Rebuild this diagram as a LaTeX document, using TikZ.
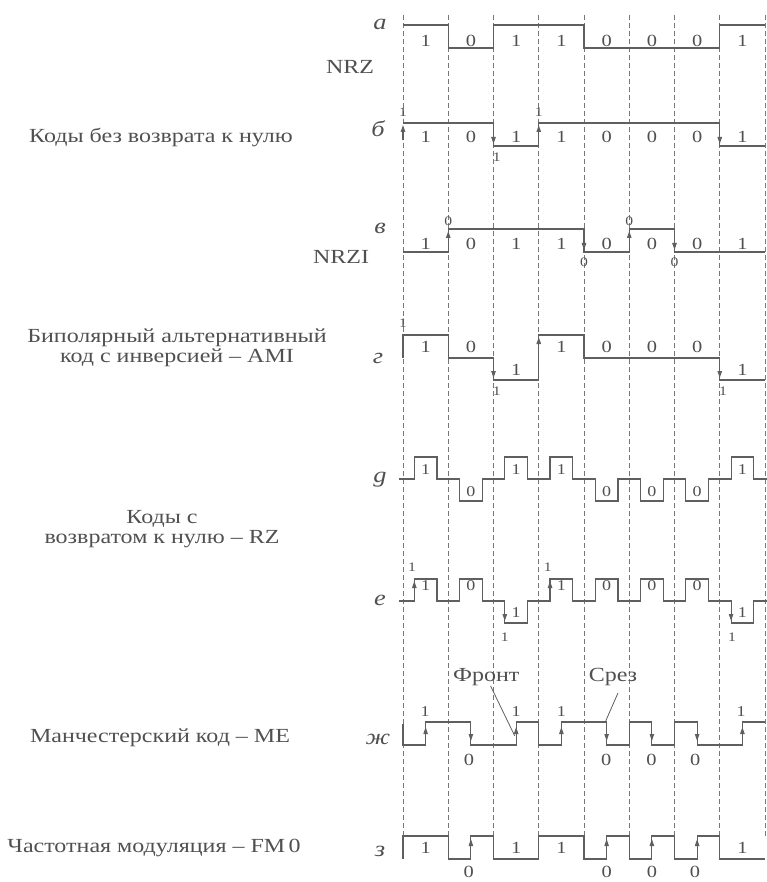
\documentclass[tikz,border=0pt]{standalone}
\usepackage{fontspec}
\setmainfont{Liberation Serif}[FakeStretch=1.2]
\usetikzlibrary{arrows.meta}
\definecolor{ink}{RGB}{95,95,95}
\definecolor{txt}{RGB}{80,80,80}
\begin{document}
\begin{tikzpicture}[x=1pt,y=-1pt,
  wave/.style={draw=ink, line width=1.15pt, line join=miter},
  gridline/.style={draw=ink!85, line width=0.55pt, dash pattern=on 5pt off 3pt},
  edgearrow/.style={draw=ink, line width=1.15pt, -{Triangle[length=7pt,width=4.4pt]}},
  leader/.style={draw=ink, line width=0.8pt},
  bit/.style={text=txt, font=\fontsize{17}{17}\selectfont, inner sep=0pt},
  marker/.style={text=txt, font=\fontsize{13}{13}\selectfont, inner sep=0pt},
  lbl/.style={text=txt, font=\fontsize{20}{19.5}\selectfont, inner sep=0pt, align=center},
  rowname/.style={text=txt, font=\fontsize{22}{22}\selectfont\itshape, inner sep=0pt},
]
\useasboundingbox (0,0) rectangle (767,882);

% ---------- left labels ----------
\node[rowname] (ra) at (380,24) {а};
\node[lbl] (nrz) at (350,67) {NRZ};
\node[rowname] (rb) at (378,129) {б};
\node[lbl] (nrzm) at (161,138) {Коды без возврата к нулю};
\node[rowname] (rv) at (380,228) {в};
\node[lbl] (nrzi) at (341,257) {NRZI};
\node[rowname] (rg) at (378,358) {г};
\node[lbl] (ami) at (177,348) {Биполярный альтернативный\\код с инверсией~– AMI};
\node[rowname] (rd) at (380,480) {g};
\node[lbl] (rz) at (162,529) {Коды с\\возвратом к нулю~– RZ};
\node[rowname] (re) at (380,600) {е};
\node[rowname] (rzh) at (378,739) {ж};
\node[lbl] (me) at (160,738) {Манчестерский код~– ME};
\node[rowname] (rz3) at (380,851) {з};
\node[lbl] (fm) at (154,848) {Частотная модуляция~– FM\,0};

\begin{scope}[shift={(403,0)}, x=45.25pt]
% dashed bit boundaries
\foreach \k in {0,...,8} \draw[gridline] (\k,15) -- (\k,836);

% ---------- a: NRZ ----------
\draw[wave] (0,25) -- (1,25) -- (1,48) -- (2,48) -- (2,25) -- (4,25) -- (4,48) -- (7,48) -- (7,25) -- (8,25);
\foreach \b [count=\i from 0] in {1,0,1,1,0,0,0,1} \node[bit] (a\i) at (\i+0.5,41) {\b};

% ---------- b ----------
\draw[wave] (0,123) -- (2,123) -- (2,146) -- (3,146) -- (3,123) -- (7,123) -- (7,146) -- (8,146);
\draw[edgearrow] (0,140) -- (0,125);
\draw[edgearrow] (2,123) -- (2,144);
\draw[edgearrow] (3,146) -- (3,125);
\draw[edgearrow] (7,123) -- (7,144);
\foreach \b [count=\i from 0] in {1,0,1,1,0,0,0,1} \node[bit] (b\i) at (\i+0.5,137) {\b};
\node[marker] (bm0) at (0,112) {1};
\node[marker] (bm2) at (2.07,157) {1};
\node[marker] (bm3) at (3,112) {1};

% ---------- v: NRZI ----------
\draw[wave] (0,252) -- (1,252) -- (1,229) -- (4,229) -- (4,252) -- (5,252) -- (5,229) -- (6,229) -- (6,252) -- (8,252);
\draw[edgearrow] (1,252) -- (1,231);
\draw[edgearrow] (4,229) -- (4,250);
\draw[edgearrow] (5,252) -- (5,231);
\draw[edgearrow] (6,229) -- (6,250);
\foreach \b [count=\i from 0] in {1,0,1,1,0,0,0,1} \node[bit] (v\i) at (\i+0.5,244) {\b};
\node[marker] (vm1) at (1,221) {0};
\node[marker] (vm4) at (4,262) {0};
\node[marker] (vm5) at (5,221) {0};
\node[marker] (vm6) at (6,262) {0};

% ---------- g: AMI ----------
\draw[wave] (0,358) -- (0,335) -- (1,335) -- (1,358) -- (2,358) -- (2,380) -- (3,380) -- (3,335) -- (4,335) -- (4,358) -- (7,358) -- (7,380) -- (8,380);
\draw[edgearrow] (2,358) -- (2,378);
\draw[edgearrow] (3,380) -- (3,337);
\draw[edgearrow] (7,358) -- (7,378);
\foreach \b/\y [count=\i from 0] in {1/347,0/347,1/370,1/347,0/347,0/347,0/347,1/370} \node[bit] (g\i) at (\i+0.5,\y) {\b};
\node[marker] (gm0) at (0,323) {1};
\node[marker] (gm2) at (2.07,391) {1};
\node[marker] (gm7) at (7.07,391) {1};

% ---------- d: RZ ----------
\draw[wave] (-0.09,479) -- (0.25,479) -- (0.25,457) -- (0.75,457) -- (0.75,479)
  -- (1.25,479) -- (1.25,501) -- (1.75,501) -- (1.75,479)
  -- (2.25,479) -- (2.25,457) -- (2.75,457) -- (2.75,479)
  -- (3.25,479) -- (3.25,457) -- (3.75,457) -- (3.75,479)
  -- (4.25,479) -- (4.25,501) -- (4.75,501) -- (4.75,479)
  -- (5.25,479) -- (5.25,501) -- (5.75,501) -- (5.75,479)
  -- (6.25,479) -- (6.25,501) -- (6.75,501) -- (6.75,479)
  -- (7.25,479) -- (7.25,457) -- (7.75,457) -- (7.75,479) -- (8.04,479);
\foreach \b/\y [count=\i from 0] in {1/470,0/492,1/470,1/470,0/492,0/492,0/492,1/470} \node[bit, font=\fontsize{15}{15}\selectfont] (d\i) at (\i+0.5,\y) {\b};

% ---------- e ----------
\draw[wave] (-0.09,601) -- (0.25,601) -- (0.25,579) -- (0.75,579) -- (0.75,601)
  -- (1.25,601) -- (1.25,579) -- (1.75,579) -- (1.75,601)
  -- (2.25,601) -- (2.25,623) -- (2.75,623) -- (2.75,601)
  -- (3.25,601) -- (3.25,579) -- (3.75,579) -- (3.75,601)
  -- (4.25,601) -- (4.25,579) -- (4.75,579) -- (4.75,601)
  -- (5.25,601) -- (5.25,579) -- (5.75,579) -- (5.75,601)
  -- (6.25,601) -- (6.25,579) -- (6.75,579) -- (6.75,601)
  -- (7.25,601) -- (7.25,623) -- (7.75,623) -- (7.75,601) -- (8.04,601);
\draw[edgearrow] (0.25,601) -- (0.25,581);
\draw[edgearrow] (2.25,601) -- (2.25,621);
\draw[edgearrow] (3.25,601) -- (3.25,581);
\draw[edgearrow] (7.25,601) -- (7.25,621);
\foreach \b/\y [count=\i from 0] in {1/586,0/586,1/613,1/586,0/586,0/586,0/586,1/613} \node[bit, font=\fontsize{15}{15}\selectfont] (e\i) at (\i+0.5,\y) {\b};
\node[marker] (em0) at (0.2,567) {1};
\node[marker] (em2) at (2.25,637) {1};
\node[marker] (em3) at (3.2,567) {1};
\node[marker] (em7) at (7.27,637) {1};

% ---------- zh: Manchester ----------
\draw[wave] (0,724) -- (0,745) -- (0.5,745) -- (0.5,722) -- (1.5,722) -- (1.5,745) -- (2.5,745) -- (2.5,722)
  -- (3,722) -- (3,745) -- (3.5,745) -- (3.5,722) -- (4.5,722) -- (4.5,745) -- (5,745) -- (5,722)
  -- (5.5,722) -- (5.5,745) -- (6,745) -- (6,722) -- (6.5,722) -- (6.5,745) -- (7.5,745) -- (7.5,722) -- (8,722);
\foreach \u in {0.5,2.5,3.5,7.5} \draw[edgearrow] (\u,745) -- (\u,727);
\foreach \u in {1.5,4.5,5.5,6.5} \draw[edgearrow] (\u,722) -- (\u,741);
\foreach \u [count=\i] in {0.49,2.5,3.5,7.47} \node[marker, font=\fontsize{15}{15}\selectfont] (zu\i) at (\u,712) {1};
\foreach \u [count=\i] in {1.46,4.49,5.49,6.46} \node[bit] (zd\i) at (\u,760) {0};
\coordinate (frontTip) at (2.47,736);
\coordinate (srezTip) at (4.47,722);
\node[lbl] (front) at (1.84,677) {Фронт};
\node[lbl] (srez) at (4.64,677) {Срез};
\draw[leader] (front) -- (frontTip);
\draw[leader] ([xshift=5pt,yshift=-7pt]srez.south) -- (srezTip);

% ---------- z: FM0 ----------
\draw[wave] (0,859) -- (0,836) -- (1,836) -- (1,859) -- (1.5,859) -- (1.5,836) -- (2,836) -- (2,859)
  -- (3,859) -- (3,836) -- (4,836) -- (4,859) -- (4.5,859) -- (4.5,836) -- (5,836) -- (5,859)
  -- (5.5,859) -- (5.5,836) -- (6,836) -- (6,859) -- (6.5,859) -- (6.5,836) -- (7,836) -- (7,859) -- (8,859);
\foreach \u in {1.5,4.5,5.5,6.5} \draw[edgearrow] (\u,859) -- (\u,839);
\foreach \u [count=\i] in {0.5,2.5,3.5,7.5} \node[bit] (fo\i) at (\u,848) {1};
\foreach \u [count=\i] in {1.45,4.5,5.5,6.45} \node[bit] (fz\i) at (\u,872) {0};
\end{scope}
\end{tikzpicture}
\end{document}
